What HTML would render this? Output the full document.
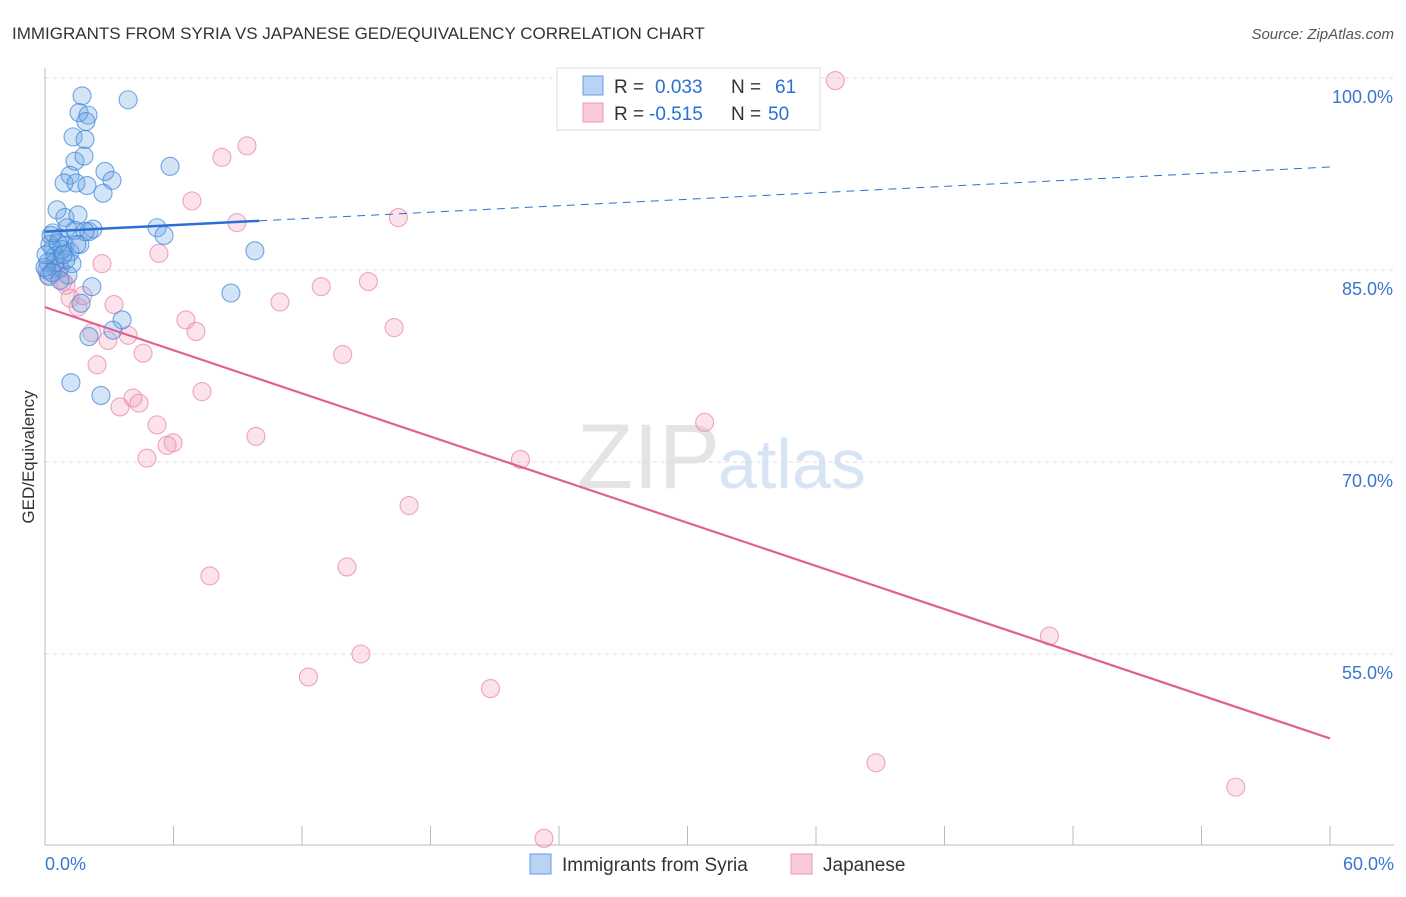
<!DOCTYPE html>
<html><head><meta charset="utf-8"><style>
body{margin:0;background:#fff;font-family:"Liberation Sans",sans-serif;}
svg text{font-family:"Liberation Sans",sans-serif;}
</style></head><body>
<svg id="chart" width="1406" height="892">
<text x="12" y="39" font-size="17" fill="#333">IMMIGRANTS FROM SYRIA VS JAPANESE GED/EQUIVALENCY CORRELATION CHART</text>
<text x="1394" y="39" font-size="15" fill="#555" font-style="italic" text-anchor="end">Source: ZipAtlas.com</text>
<text x="720" y="488" font-size="92" fill="#e4e4e4" text-anchor="end" font-family="Liberation Serif">ZIP</text>
<text x="718" y="488" font-size="70" fill="#d6e4f5">atlas</text>
<g id="grid"></g><g id="pts"></g><g id="lines"></g>
<text transform="translate(34,457) rotate(-90)" font-size="17" fill="#333" text-anchor="middle">GED/Equivalency</text>
<g>
<rect x="557" y="68" width="263" height="62" fill="#fff" stroke="#ddd"/>
<rect x="583" y="76" width="20" height="19" fill="#b9d3f5" stroke="#6b9ee0"/>
<rect x="583" y="103" width="20" height="19" fill="#f9c9d8" stroke="#ec9ab5"/>
<text x="614" y="93" font-size="19" fill="#333">R = </text><text x="655" y="93" font-size="19" fill="#2a6fd6">0.033</text>
<text x="731" y="93" font-size="19" fill="#333">N = </text><text x="775" y="93" font-size="19" fill="#2a6fd6">61</text>
<text x="614" y="120" font-size="19" fill="#333">R = </text><text x="649" y="120" font-size="19" fill="#2a6fd6">-0.515</text>
<text x="731" y="120" font-size="19" fill="#333">N = </text><text x="768" y="120" font-size="19" fill="#2a6fd6">50</text>
</g>
<g>
<rect x="530" y="854" width="21" height="20" fill="#b9d3f5" stroke="#6b9ee0"/>
<text x="562" y="871" font-size="19" fill="#333">Immigrants from Syria</text>
<rect x="791" y="854" width="21" height="20" fill="#f9c9d8" stroke="#ec9ab5"/>
<text x="823" y="871" font-size="19" fill="#333">Japanese</text>
</g>
</svg>
<script>
const yTicks=[100,85,70,55];
const xTickLabels=["0.0%","60.0%"];
const blueX=[1.73,3.88,1.59,2.01,1.91,1.31,1.87,1.40,1.82,5.84,1.17,2.80,3.13,0.89,1.45,1.96,2.71,0.56,0.93,1.54,1.40,2.05,2.24,5.23,5.56,0.28,0.70,9.80,0.37,0.93,1.17,0.47,0.14,0.70,1.26,1.07,0.09,0.19,0.47,0.79,2.19,1.68,8.68,3.60,3.17,2.05,1.21,2.61,0.23,0.61,0.0,0.98,1.63,0.05,0.33,0.70,1.87,1.03,1.49,0.37,0.84];
const blueY=[98.6,98.3,97.3,97.1,96.6,95.4,95.2,93.5,93.9,93.1,92.4,92.7,92.0,91.8,91.8,91.6,91.0,89.7,89.1,89.3,88.1,88.0,88.2,88.3,87.7,87.7,87.5,86.5,86.7,86.9,86.4,86.1,85.6,85.2,85.5,84.6,85.0,84.5,85.6,86.6,83.7,82.4,83.2,81.1,80.3,79.8,76.2,75.2,87.0,87.1,85.2,85.8,87.0,86.2,84.8,84.2,88.0,88.3,87.0,87.9,86.2];
const pinkX=[36.9,9.43,8.26,6.86,8.96,16.5,5.32,2.66,15.1,12.9,10.97,3.22,6.58,7.05,16.3,3.88,2.19,2.94,4.58,13.9,2.43,7.33,4.11,4.39,3.50,5.23,5.98,5.70,9.85,30.8,4.76,22.2,17.0,7.70,14.1,14.75,12.3,20.8,46.9,38.8,55.6,23.3,0.61,0.84,1.17,1.54,1.77,0.14,0.47,0.98];
const pinkY=[99.8,94.7,93.8,90.4,88.7,89.1,86.3,85.5,84.1,83.7,82.5,82.3,81.1,80.2,80.5,79.9,80.1,79.5,78.5,78.4,77.6,75.5,75.0,74.6,74.3,72.9,71.5,71.3,72.0,73.1,70.3,70.2,66.6,61.1,61.8,55.0,53.2,52.3,56.4,46.5,44.6,40.6,85.0,84.1,82.8,82.1,83.0,84.6,85.2,83.8];
const blueTrend=[88.0,93.05];
const pinkTrend=[82.1,48.4];
const NS='http://www.w3.org/2000/svg';
const X=v=>45+v*1285/60, Y=v=>78+(100-v)*12.8;
function mk(tag,attrs,parent){const e=document.createElementNS(NS,tag);for(const k in attrs)e.setAttribute(k,attrs[k]);document.getElementById(parent).appendChild(e);return e;}
yTicks.forEach(t=>{
 const l=mk('line',{x1:45,x2:1394,y1:Y(t),y2:Y(t),stroke:'#ddd','stroke-dasharray':'4,4'},'grid');
 
 
 const tx=mk('text',{x:1393,y:Y(t)+25,'font-size':18,fill:'#3a75d0','text-anchor':'end'},'grid');
 tx.textContent=t.toFixed(1)+'%';
 
 
});
const ax=mk('line',{x1:45,x2:45,y1:68,y2:845,stroke:'#bbb'},'grid');


const bx=mk('line',{x1:45,x2:1394,y1:845,y2:845,stroke:'#bbb'},'grid');


for(let i=0;i<=10;i++){const t=mk('line',{x1:X(i*6),x2:X(i*6),y1:826,y2:845,stroke:'#bbb'},'grid');
 
 }
[[0,'start',45],[60,'end',1394]].forEach((d,i)=>{const t=mk('text',{x:d[2],y:870,'font-size':18,fill:'#3a75d0','text-anchor':d[1]},'grid');t.textContent=xTickLabels[i];
 
 });
pinkX.forEach((v,i)=>{const c=mk('circle',{cx:X(v),cy:Y(pinkY[i]),r:9,fill:'rgba(242,160,188,0.3)',stroke:'rgba(232,130,165,0.7)','stroke-width':1.1},'pts');
 
 });
blueX.forEach((v,i)=>{const c=mk('circle',{cx:X(v),cy:Y(blueY[i]),r:9,fill:'rgba(110,165,230,0.3)',stroke:'rgba(60,130,215,0.7)','stroke-width':1.1},'pts');
 
 });
const bAt=x=>blueTrend[0]+(blueTrend[1]-blueTrend[0])*x/60;
const l1=mk('line',{x1:X(0),y1:Y(bAt(0)),x2:X(10),y2:Y(bAt(10)),stroke:'#2a6fd6','stroke-width':2.5},'lines');


const l2=mk('line',{x1:X(10),y1:Y(bAt(10)),x2:X(60),y2:Y(bAt(60)),stroke:'#2a6fd6','stroke-width':1,'stroke-dasharray':'8,6'},'lines');


const l3=mk('line',{x1:X(0),y1:Y(pinkTrend[0]),x2:X(60),y2:Y(pinkTrend[1]),stroke:'#e0608f','stroke-width':2.2},'lines');


</script>
</body></html>
